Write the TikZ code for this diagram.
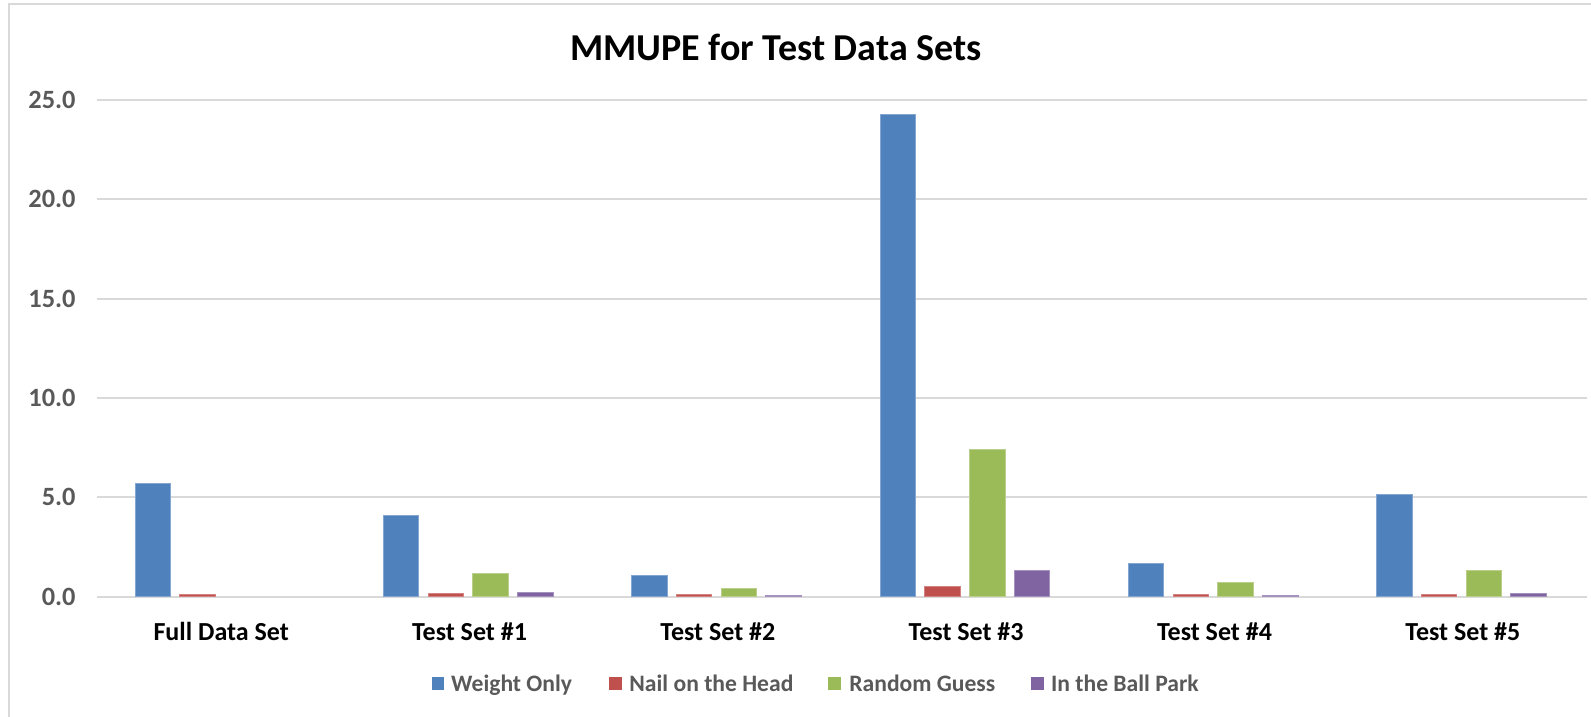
\documentclass[tikz,border=0pt]{standalone}
\usepackage{fontspec}
\setmainfont{Carlito}
\definecolor{gridgray}{HTML}{D9D9D9}
\definecolor{ticktext}{HTML}{595959}
\definecolor{sWeight}{HTML}{4F81BD}
\definecolor{sNail}{HTML}{C0504D}
\definecolor{sRandom}{HTML}{9BBB59}
\definecolor{sBall}{HTML}{8064A2}
\tikzset{
  gridline/.style={draw=gridgray, line width=1pt},
  framestyle/.style={draw=gridgray, line width=1pt},
  ticklabel/.style={anchor=east, inner sep=0pt, text=ticktext,
    font=\fontsize{13.2pt}{15pt}\selectfont\bfseries},
  catlabel/.style={anchor=base, inner sep=0pt, text=black,
    font=\fontsize{13pt}{15pt}\selectfont\bfseries},
  titlelabel/.style={anchor=base, inner sep=0pt, text=black,
    font=\fontsize{19pt}{22pt}\selectfont\bfseries},
  legendtext/.style={anchor=base west, inner sep=0pt, text=ticktext,
    font=\fontsize{11.8pt}{14pt}\selectfont\bfseries},
  barstyle/.style={fill=#1, draw=#1!70!white, line width=0.4pt},
}
\begin{document}
\begin{tikzpicture}[x=0.5pt,y=-0.5pt]
  % canvas
  \useasboundingbox (0,0) rectangle (1591,717);
  \fill[white] (0,0) rectangle (1591,717);
  % chart frame
  \draw[framestyle] (8.5,717) -- (8.5,4) -- (1591,4);

  % title
  \node[titlelabel] (title) at (776,61) {MMUPE for Test Data Sets};

  % horizontal gridlines and value-axis labels (0 at y=596.7, 19.868 px per unit)
  \foreach \v/\t in {0/0.0,5/5.0,10/10.0,15/15.0,20/20.0,25/25.0} {
    \pgfmathsetmacro\gy{596.7-19.868*\v}
    \draw[gridline] (97,\gy) -- (1587,\gy);
    \node[ticklabel] (tick\v) at (76,\gy) {\t};
  }

  % bars: category width 248.33, bar width 35.5, bar step 44.7
  \foreach \s/\col/\vals in {
      0/sWeight/{5.69,4.07,1.05,24.3,1.68,5.17},
      1/sNail/{0.10,0.15,0.10,0.54,0.13,0.13},
      2/sRandom/{0,1.18,0.44,7.42,0.70,1.33},
      3/sBall/{0,0.20,0.07,1.33,0.07,0.18}} {
    \foreach \v [count=\c from 0] in \vals {
      \ifdim \v pt>0pt
        \pgfmathsetmacro\xl{97+248.33*\c+38+44.7*\s}
        \pgfmathsetmacro\xr{\xl+35.5}
        \pgfmathsetmacro\yt{596.7-19.868*\v}
        \path[barstyle=\col] (\xl,596.7) rectangle (\xr,\yt);
      \fi
    }
  }

  % category labels
  \foreach \c/\t in {0/Full Data Set,1/Test Set \#1,2/Test Set \#2,
                     3/Test Set \#3,4/Test Set \#4,5/Test Set \#5} {
    \pgfmathsetmacro\cx{97+248.33*(\c+0.5)}
    \node[catlabel] (cat\c) at (\cx,640) {\t};
  }

  % legend
  \foreach \k/\col/\kx/\tx/\t in {
      w/sWeight/431.5/450.7/Weight Only,
      n/sNail/609/629/Nail on the Head,
      r/sRandom/828/849/Random Guess,
      b/sBall/1031/1050.7/In the Ball Park} {
    \fill[\col] (\kx,677) rectangle ++(12.5,12.5);
    \node[legendtext] (leg\k) at (\tx,691.5) {\t};
  }
\end{tikzpicture}
\end{document}
